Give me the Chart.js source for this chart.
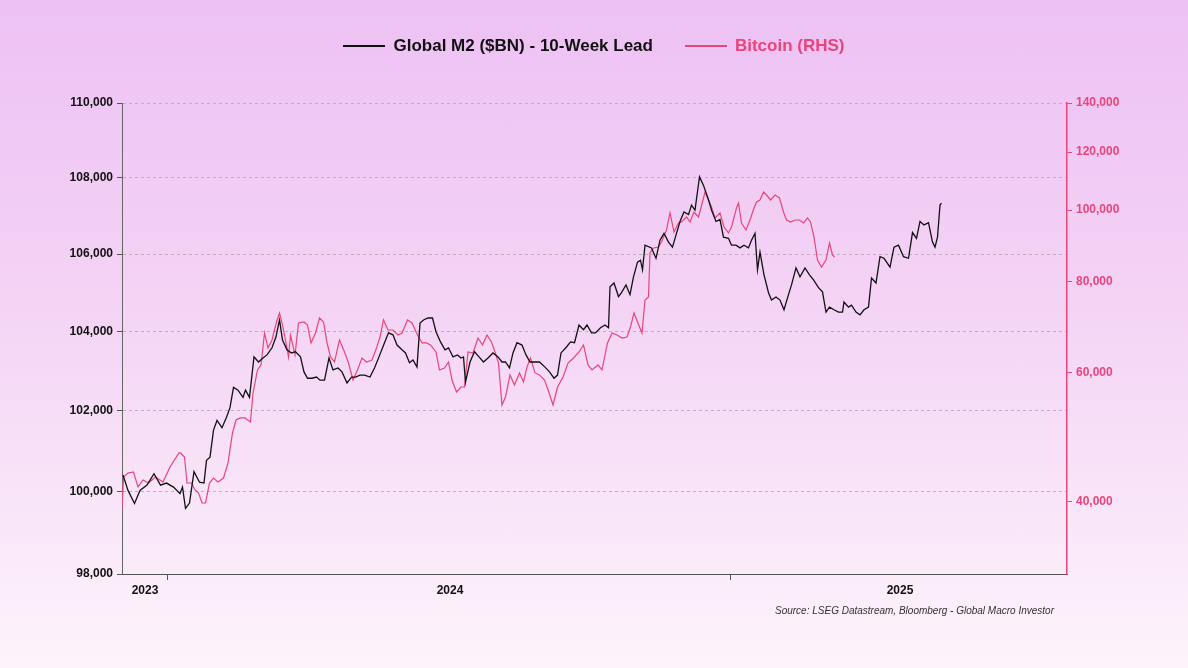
<!DOCTYPE html>
<html><head><meta charset="utf-8">
<script src="https://cdn.jsdelivr.net/npm/chart.js@4.4.1/dist/chart.umd.min.js"></script>
<style>
html,body{margin:0;padding:0;}
body{width:1188px;height:668px;overflow:hidden;background:linear-gradient(180deg,#edc1f4 0%,#f4d3f5 45%,#fdf4fb 100%);font-family:"Liberation Sans",Arial,sans-serif;position:relative;}
#wrap{position:absolute;left:0;top:0;width:1188px;height:668px;}
#legend{position:absolute;top:36px;left:0;width:1188px;text-align:center;font-weight:bold;font-size:17px;}
#legend span.item{display:inline-block;margin:0 16px;}
#legend i{display:inline-block;width:42px;height:0;border-top:2px solid;vertical-align:middle;margin-right:8px;position:relative;top:-1px;}
#src{position:absolute;right:134px;top:605px;font-style:italic;font-size:10px;color:#333;}
</style></head>
<body>
<div id="wrap"><canvas id="c" width="1188" height="668"></canvas></div>
<div id="legend"><span class="item" style="color:#111"><i style="border-color:#111"></i>Global M2 ($BN) - 10-Week Lead</span><span class="item" style="color:#e8457b"><i style="border-color:#e8457b"></i>Bitcoin (RHS)</span></div>
<div id="src">Source: LSEG Datastream, Bloomberg - Global Macro Investor</div>
<script>
// x = week index from chart start
const m2Series = [[0.2,100410],[1.2,100030],[2.5,99710],[3.6,100030],[5.0,100160],[6.4,100440],[7.7,100160],[8.9,100210],[10.3,100110],[11.6,99950],[12.1,100110],[12.7,99590],[13.5,99720],[14.4,100490],[15.5,100230],[16.4,100210],[16.9,100770],[17.6,100850],[18.3,101520],[19.0,101760],[20.0,101580],[20.9,101840],[21.6,102080],[22.3,102590],[23.2,102520],[24.2,102340],[24.7,102520],[25.5,102340],[26.4,103360],[27.3,103230],[28.2,103330],[29.0,103410],[30.0,103590],[30.8,103870],[31.5,104300],[32.1,103790],[33.0,103540],[33.9,103460],[34.7,103490],[35.7,103360],[36.4,102980],[37.1,102820],[38.0,102820],[38.9,102850],[39.6,102770],[40.5,102770],[41.4,103330],[42.2,103030],[43.2,103080],[44.0,102980],[45.0,102700],[45.9,102850],[46.7,102850],[47.6,102900],[48.5,102900],[49.6,102850],[50.5,103080],[51.4,103360],[52.5,103720],[53.3,103970],[54.2,103920],[55.0,103660],[56.0,103540],[56.7,103460],[57.5,103210],[58.2,103280],[59.0,103100],[59.6,104220],[60.3,104300],[61.2,104350],[62.1,104350],[62.8,104000],[63.7,103740],[64.6,103540],[65.3,103590],[66.2,103360],[67.1,103410],[67.8,103330],[68.3,103360],[68.7,102720],[69.6,103230],[70.5,103490],[71.4,103360],[72.3,103230],[73.2,103330],[74.2,103460],[75.2,103360],[76.0,103230],[76.7,103230],[77.5,103080],[78.2,103460],[79.0,103720],[80.0,103660],[80.8,103410],[81.6,103230],[82.5,103230],[83.5,103230],[84.6,103100],[85.5,102980],[86.4,102820],[87.1,102900],[87.8,103460],[88.9,103610],[89.7,103740],[90.5,103720],[91.4,104170],[92.3,104050],[93.0,104170],[93.9,103970],[94.7,103970],[95.7,104100],[96.6,104170],[97.3,104100],
[97.6,105150],[98.4,105250],[99.3,104900],[99.9,105000],[100.8,105200],[101.6,104950],[102.3,105410],[103.1,105790],[103.7,105840],[104.1,105590],[104.6,106230],[105.9,106160],[106.8,105890],[107.6,106360],[108.4,106540],[109.3,106310],[110.1,106180],[110.9,106540],[111.6,106850],[112.4,107100],[113.3,107030],[113.9,107280],[114.6,107150],[115.5,108030],[116.3,107800],[117.3,107420],[117.9,107150],[118.8,106850],[119.6,106900],[120.3,106440],[121.3,106410],[121.9,106230],[122.8,106230],[123.6,106160],[124.4,106230],[125.3,106160],[125.9,106360],[126.6,106540],[127.1,105590],[127.6,106050],[128.4,105460],[129.3,105000],[129.9,104810],[130.8,104890],[131.6,104810],[132.4,104560],[133.3,104950],[133.9,105200],[134.8,105640],[135.6,105410],[136.6,105640],[137.5,105460],[138.3,105330],[139.3,105130],[140.1,105020],[140.8,104500],[141.5,104630],[142.4,104560],[143.3,104500],[144.1,104500],[144.4,104760],[145.3,104630],[145.9,104680],[146.8,104500],[147.6,104430],[148.4,104560],[149.3,104630],[149.9,105380],[150.8,105250],[151.6,105930],[152.4,105890],[153.6,105660],[154.4,106180],[155.3,106230],[156.3,105930],[157.3,105890],[158.1,106560],[158.9,106410],[159.6,106850],[160.4,106760],[161.3,106820],[162.1,106310],[162.6,106180],[163.1,106440],[163.6,107280],[163.9,107330]];

const btcSeries = [[0,39000],[0.3,43260],[1.2,43800],[2.3,43940],[3.2,41930],[4.2,42860],[5.3,42450],[6.7,43260],[8.2,42580],[9.6,44650],[11.4,46650],[11.7,46650],[12.5,46060],[13.0,42450],[13.9,42450],[14.6,41540],[15.3,41150],[16.0,39870],[16.7,39870],[17.5,42450],[18.3,43120],[19.2,42580],[20.3,43120],[21.2,45210],[22.1,49670],[22.8,51740],[23.7,52070],[24.6,52070],[25.7,51420],[26.2,56320],[27.1,60540],[27.8,61500],[28.5,68000],[29.2,64860],[30.0,66510],[30.9,70380],[31.5,72410],[32.1,69720],[32.8,65900],[33.3,63060],[33.7,67560],[34.6,63460],[35.3,70170],[36.4,70380],[37.1,69720],[37.8,65900],[38.7,68000],[39.5,71270],[40.3,70380],[41.0,65900],[41.7,63060],[42.5,62080],[43.5,66510],[44.5,64060],[45.3,61880],[46.2,58660],[47.1,60540],[48.0,62860],[48.9,62080],[50.0,62470],[50.9,64860],[51.6,67140],[52.3,70830],[53.2,68640],[54.2,68640],[55.2,67560],[56.0,68000],[57.1,70830],[58.0,70170],[58.9,68000],[60.0,65900],[60.9,65900],[61.7,65480],[62.8,64060],[63.5,60540],[64.5,60910],[65.3,62080],[66.0,58660],[66.9,56490],[67.8,57390],[68.5,57390],[69.2,64060],[70.2,63860],[71.2,66930],[72.1,65480],[73.0,67560],[73.9,66090],[74.6,64060],[75.3,61880],[76.0,54240],[76.7,55620],[77.6,59600],[78.5,57750],[79.5,59980],[80.3,58300],[81.0,61110],[81.7,62860],[82.6,59980],[83.5,59600],[84.5,58660],[85.3,56670],[86.2,54240],[87.1,57390],[88.2,59190],[89.2,61880],[90.3,62860],[91.4,64060],[92.3,65480],[93.2,61500],[94.0,60540],[95.2,61500],[96.0,60540],[97.1,65900],[98.0,68000],[99.0,67560],[100.0,66930],[101.0,67140],[101.7,69290],[102.4,72410],[103.5,69290],[104.0,68000],
[104.6,75420],[105.3,76130],[105.6,87420],[106.3,88800],[107.3,89070],[107.9,90480],[108.9,93950],[109.6,99110],[110.4,93370],[111.3,96050],[111.9,96350],[112.9,97870],[113.6,96350],[114.4,99410],[115.3,97870],[116.1,102590],[116.6,105870],[117.3,103240],[117.9,101000],[118.6,97570],[119.6,99110],[120.4,94850],[121.3,93090],[121.9,94850],[122.9,100690],[123.3,102270],[123.9,96050],[124.8,93950],[125.6,96960],[126.4,100690],[126.9,102590],[127.6,103240],[128.3,105870],[128.9,104870],[129.7,103240],[130.6,104870],[131.5,103890],[132.3,99410],[132.9,96960],[133.7,96350],[134.6,96960],[135.5,96960],[136.3,96050],[137.1,97570],[137.7,96350],[138.4,91910],[139.1,85510],[139.9,83650],[140.8,85510],[141.5,90200],[142.1,86870],[142.5,86320]];

const leftTicks = [98000,100000,102000,104000,106000,108000,110000];
const rightTicks = [40000,60000,80000,100000,120000,140000];
const xTickMarks = [9, 121.8];
const yearLabels = ['2023','2024','2025'];
const yearLabelWeeks = [4.6, 65.6, 155.6];

const toPts = s => s.map(p => ({x:p[0], y:p[1]}));
const fmt = v => v.toLocaleString('en-US');

const yearPlugin = {
  id:'years',
  afterDraw(chart){
    const ctx=chart.ctx, xs=chart.scales.x;
    ctx.save();
    ctx.font='bold 12px "Liberation Sans", Arial';
    ctx.fillStyle='#111'; ctx.textAlign='center'; ctx.textBaseline='middle';
    yearLabels.forEach((t,i)=>ctx.fillText(t, xs.getPixelForValue(yearLabelWeeks[i]), 591));
    ctx.restore();
  }
};

new Chart(document.getElementById('c'), {
  type:'line',
  data:{datasets:[
    {label:'Global M2 ($BN) - 10-Week Lead', data:toPts(m2Series), yAxisID:'y', borderColor:'#111', borderWidth:1.3, pointRadius:0, tension:0},
    {label:'Bitcoin (RHS)', data:toPts(btcSeries), yAxisID:'y1', borderColor:'#e8457b', borderWidth:1.2, pointRadius:0, tension:0}
  ]},
  options:{
    responsive:false, animation:false, devicePixelRatio:1,
    layout:{padding:{top:103,left:0,right:0,bottom:0}},
    plugins:{legend:{display:false}, tooltip:{enabled:false}},
    scales:{
      x:{type:'linear', min:0, max:189,
        afterFit(s){s.height=94;},
        afterBuildTicks(s){s.ticks=xTickMarks.map(v=>({value:v}));},
        ticks:{callback:()=> '', maxRotation:0},
        grid:{drawOnChartArea:false, tickLength:6, color:'#555'},
        border:{color:'#555', width:1}},
      y:{type:'logarithmic', position:'left', min:98000, max:110000,
        afterFit(s){s.width=122;},
        afterBuildTicks(s){s.ticks=leftTicks.map(v=>({value:v}));},
        ticks:{callback:v=>fmt(v), color:'#111', font:{family:'"Liberation Sans", Arial', size:12, weight:'bold'}, padding:4},
        grid:{color:'#c0aec2', tickLength:5, tickColor:'#555', drawTicks:true},
        border:{color:'#666', width:1, dash:[3,3]}},
      y1:{type:'logarithmic', position:'right', min:31900, max:140000,
        afterFit(s){s.width=121;},
        afterBuildTicks(s){s.ticks=rightTicks.map(v=>({value:v}));},
        ticks:{callback:v=>fmt(v), color:'#e8457b', font:{family:'"Liberation Sans", Arial', size:12, weight:'bold'}, padding:4},
        grid:{drawOnChartArea:false, tickLength:5, color:'#e8457b'},
        border:{color:'#e8457b', width:1.5}}
    }
  },
  plugins:[yearPlugin]
});
</script>
</body></html>
